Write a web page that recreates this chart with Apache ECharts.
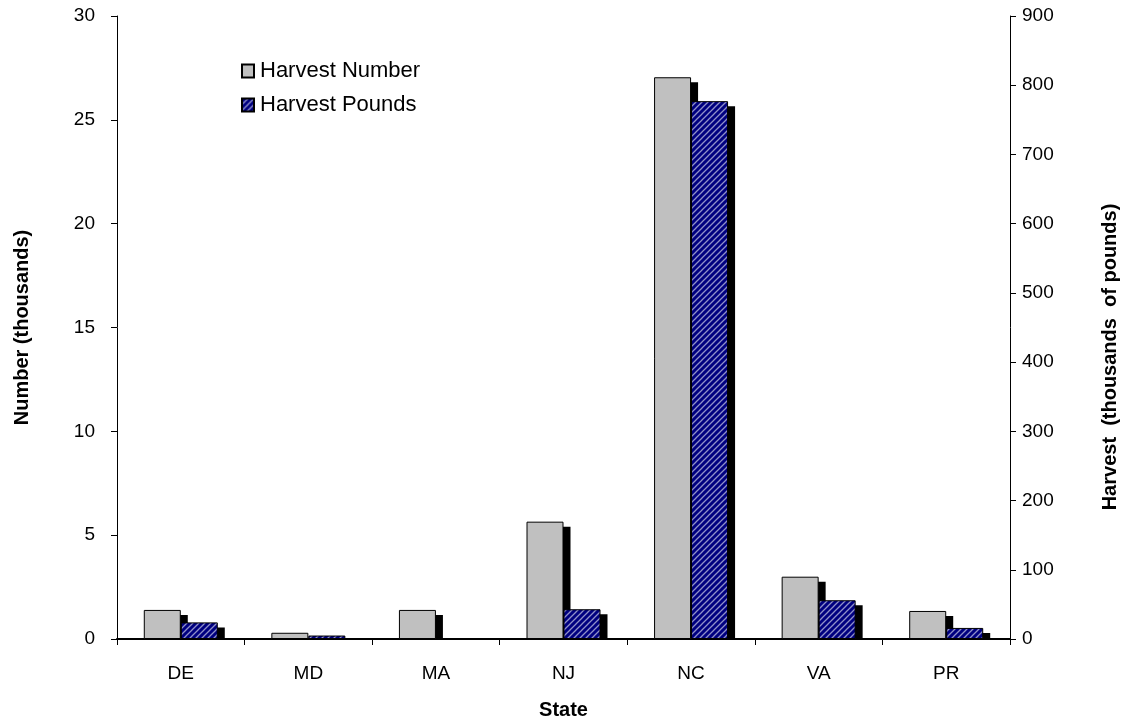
<!DOCTYPE html>
<html>
<head>
<meta charset="utf-8">
<script src="https://cdn.jsdelivr.net/npm/echarts@6/dist/echarts.min.js"></script>
<style>
  html, body { margin: 0; padding: 0; background: #fff; }
  #chart { width: 1125px; height: 721px; }
</style>
</head>
<body>
<div id="chart"></div>
<script>
// 数据
var states = ['DE', 'MD', 'MA', 'NJ', 'NC', 'VA', 'PR'];
var harvestNumber = [1.4, 0.3, 1.4, 5.65, 27.05, 3.0, 1.35];   // thousands
var harvestPounds = [24, 5, 0, 43, 777, 56, 16];                 // thousands of pounds

var BAR_W = 37;

// 斜线填充
function hatch() {
  var c = document.createElement('canvas');
  c.width = 6; c.height = 6;
  var g = c.getContext('2d');
  g.fillStyle = '#000080';
  g.fillRect(0, 0, 6, 6);
  g.strokeStyle = '#9090c8';
  g.lineWidth = 1.3;
  g.beginPath();
  g.moveTo(-1, 7); g.lineTo(7, -1);
  g.moveTo(-1, 1); g.lineTo(1, -1);
  g.moveTo(5, 7); g.lineTo(7, 5);
  g.stroke();
  return { image: c, repeat: 'repeat' };
}

// 阴影（柱子右下方的黑块）
function shadowItem(side) {
  return function(params, api) {
    var top = api.coord([api.value(0), api.value(1)]);
    var base = api.coord([api.value(0), 0]);
    var left = side < 0 ? top[0] - BAR_W : top[0];
    var y = top[1] + 5;
    var h = base[1] + 1 - y;
    if (h <= 0) return null;
    return {
      type: 'rect',
      shape: { x: left + 7, y: y, width: BAR_W, height: h },
      style: { fill: '#000' }
    };
  };
}

var font = 'Liberation Sans, Arial, sans-serif';
var chart = echarts.init(document.getElementById('chart'));
chart.setOption({
  animation: false,
  textStyle: { fontFamily: font },
  grid: { left: 117, right: 115, top: 16, bottom: 82, containLabel: false, outerBoundsMode: 'none' },
  legend: {
    left: 236, top: 55, orient: 'vertical',
    icon: 'rect', itemWidth: 12, itemHeight: 13, itemGap: 12,
    textStyle: { fontSize: 22, color: '#000', fontFamily: font, padding: [0, 0, 0, 1] },
    data: ['Harvest Number', 'Harvest Pounds']
  },
  graphic: [{
    type: 'text',
    x: 1110, y: 357, rotation: Math.PI / 2,
    style: {
      text: 'Harvest  (thousands  of pounds)',
      font: 'bold 20px Liberation Sans, Arial, sans-serif',
      fill: '#000', align: 'center', verticalAlign: 'middle'
    }
  }],
  xAxis: {
    type: 'category',
    data: states,
    name: 'State', nameLocation: 'middle', nameGap: 61,
    nameTextStyle: { fontSize: 20, fontWeight: 'bold', color: '#000' },
    axisLine: { lineStyle: { color: '#000', width: 2 } },
    axisTick: { show: true, length: 6, lineStyle: { color: '#000' } },
    axisLabel: { fontSize: 19, color: '#000', margin: 25 }
  },
  yAxis: [{
    type: 'value', min: 0, max: 30, interval: 5,
    name: 'Number (thousands)', nameLocation: 'middle', nameGap: 85,
    nameTextStyle: { fontSize: 20, fontWeight: 'bold', color: '#000' },
    axisLine: { show: true, lineStyle: { color: '#000' } },
    axisTick: { show: true, length: 6, lineStyle: { color: '#000' } },
    axisLabel: { fontSize: 19, color: '#000', margin: 22 },
    splitLine: { show: false }
  }, {
    type: 'value', min: 0, max: 900, interval: 100, position: 'right',
    axisLine: { show: true, lineStyle: { color: '#000' } },
    axisTick: { show: true, length: 6, lineStyle: { color: '#000' } },
    axisLabel: { fontSize: 19, color: '#000', margin: 12 },
    splitLine: { show: false }
  }],
  series: [{
    name: 'Number shadow', type: 'custom', yAxisIndex: 0, z: 1,
    renderItem: shadowItem(-1),
    data: harvestNumber.map(function(v, i) { return [i, v]; })
  }, {
    name: 'Pounds shadow', type: 'custom', yAxisIndex: 1, z: 1,
    renderItem: shadowItem(1),
    data: harvestPounds.map(function(v, i) { return [i, v]; })
  }, {
    name: 'Harvest Number', type: 'bar', yAxisIndex: 0, z: 2,
    barWidth: BAR_W, barGap: '0%',
    data: harvestNumber,
    itemStyle: { color: '#c0c0c0', borderColor: '#000', borderWidth: 1 }
  }, {
    name: 'Harvest Pounds', type: 'bar', yAxisIndex: 1, z: 2,
    barWidth: BAR_W,
    data: harvestPounds,
    itemStyle: { color: hatch(), borderColor: '#000', borderWidth: 1 }
  }]
});
</script>
</body>
</html>
